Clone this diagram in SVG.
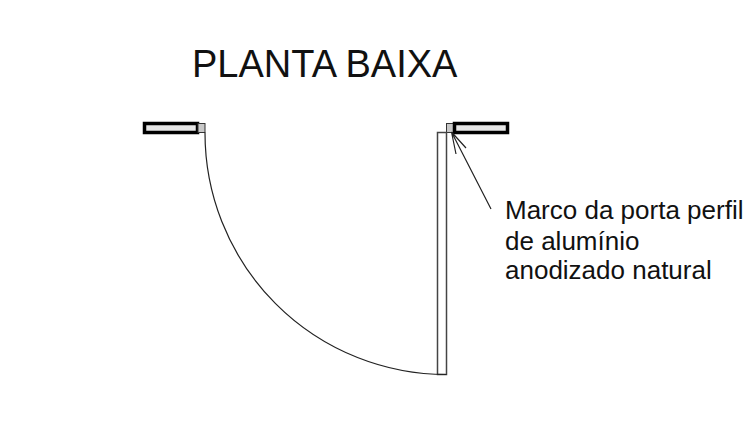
<svg xmlns="http://www.w3.org/2000/svg" width="750" height="434" viewBox="0 0 750 434">
<style>
.wall{fill:#e6e6e6;stroke:#000;stroke-width:3.500}
.frame{fill:#c8c8c8;stroke:#333;stroke-width:1}
.thin{fill:none;stroke:#222;stroke-width:1.200}
.door{fill:#fff;stroke:#444;stroke-width:1.500}
text{font-family:"Liberation Sans",Arial,sans-serif;fill:#111}
</style>
<rect width="750" height="434" fill="#fff"/>
<text x="192" y="77" font-size="38">PLANTA BAIXA</text>
<g id="left-wall"><rect class="wall" x="144.500" y="123.500" width="53" height="9"/><rect class="frame" x="198" y="123.500" width="7" height="9"/></g>
<g id="right-wall"><rect class="frame" x="446.500" y="123.500" width="7" height="9"/><rect class="wall" x="454.500" y="123.500" width="53" height="9"/></g>
<g id="door"><rect class="door" x="437.500" y="132.500" width="9" height="242"/><path class="thin" d="M205 132.500A241.500 241.500 0 0 0 446.500 374.500"/></g>
<g id="leader"><path class="thin" d="M491 209L451.500 132M451.500 132L456 154M451.500 132L466 148"/></g>
<text font-size="26"><tspan x="505" y="219">Marco da porta perfil</tspan><tspan x="505" y="250">de alumínio</tspan><tspan x="505" y="279">anodizado natural</tspan></text>
</svg>
